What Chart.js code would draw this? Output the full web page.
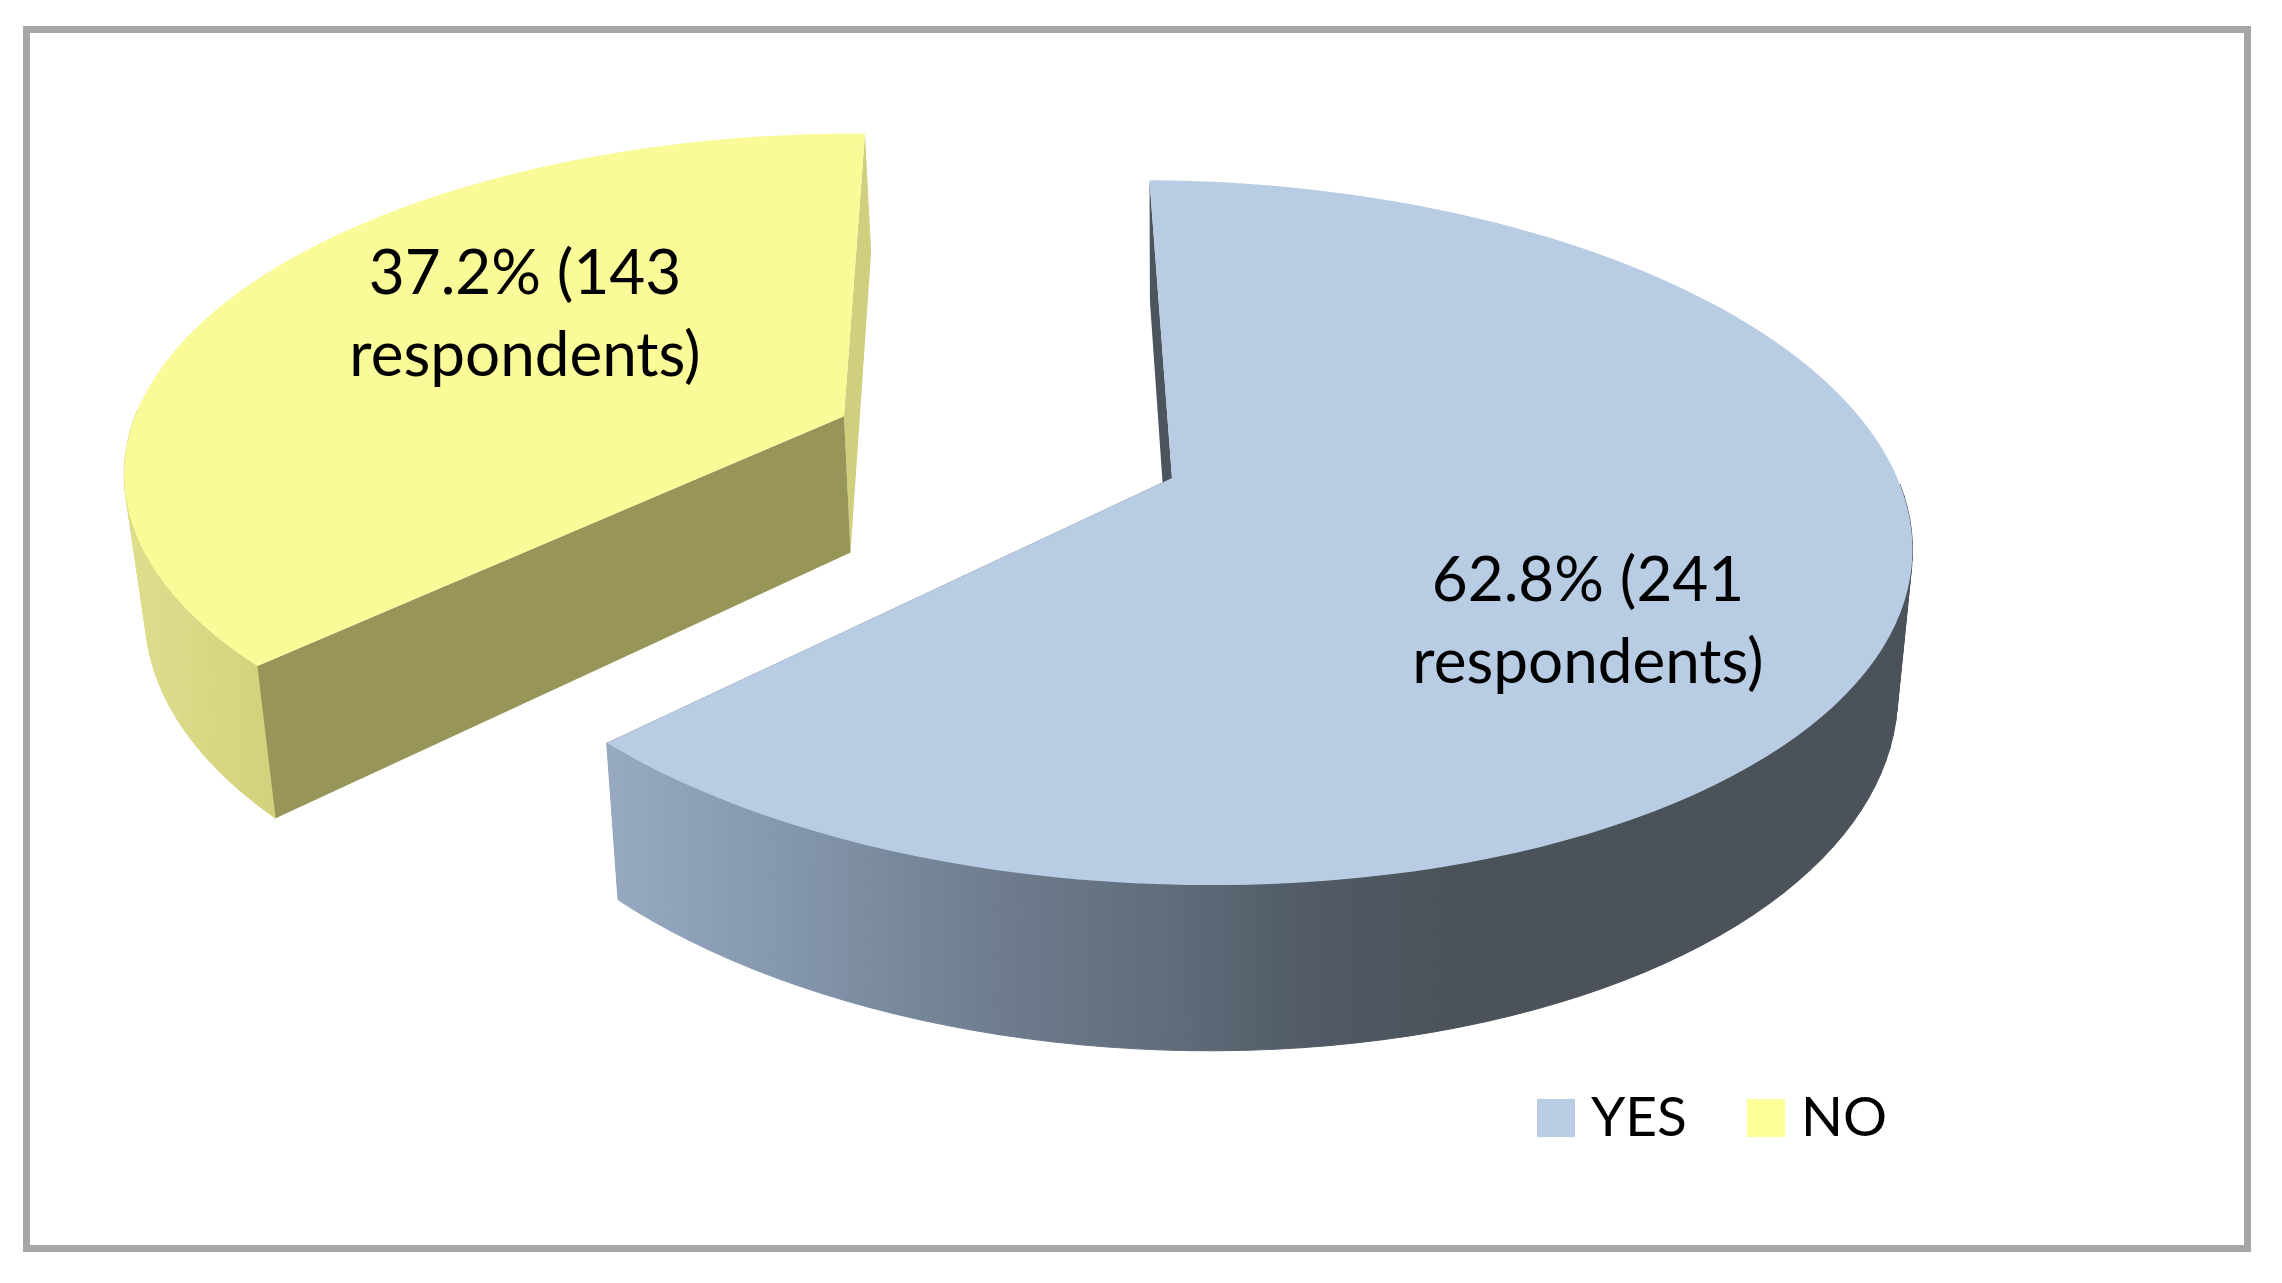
<!DOCTYPE html>
<html>
<head>
<meta charset="utf-8">
<title>Respondents</title>
<style>
  html, body { margin: 0; background: #fff; }
  canvas { display: block; }
</style>
<script src="https://cdn.jsdelivr.net/npm/chart.js@4/dist/chart.umd.js"></script>
</head>
<body>
<canvas id="myChart" width="2282" height="1283"></canvas>
<script>
const categories = ['YES', 'NO'];
const respondents = [241, 143];
const percents = ['62.8%', '37.2%'];

const topColors = ['#b8cce4', '#fbfa98'];
const swatchColors = ['#b8cce4', '#ffff99'];
const startWallColors = ['#4c555e', '#979658'];
const endWallColors = ['#4c555e', '#cfcf7e'];
const outerWallStops = [
    [[0, '#98aac1'], [0.15, '#8395ab'], [0.3, '#6e7c8e'], [0.44, '#5f6b79'], [0.54, '#515a66'], [0.65, '#4b5259'], [1, '#4b5259']],
    [[0, '#dfde8e'], [0.2, '#d2d27c'], [1, '#cfcf7e']]
];

// look of the tilted disc, px
const pie = { rx: 727, ry: 344, depth: 140, tilt: 0.155, shrink: 0.02, shearX: 26, shearY: 4 };
const explode = [0, 357];
const explodeTurn = -1.6 * Math.PI / 180;
const labelFont = '62px Lato';
const legendFont = '55px Lato';
const labelSpots = [[1588, 581], [525, 274]];
const lineGap = 82;

class PieSlice3D extends Chart.ArcElement {
    point(px, py, z) {
        let w = 1 - pie.tilt * py;
        let s = 1 - pie.shrink * z;
        return [
            this.x + s * (pie.rx * px + pie.shearX * py) / w,
            this.y + (pie.ry * py + pie.shearY * px + pie.depth * z) / w
        ];
    }

    fillPoly(ctx, points, fill) {
        ctx.beginPath();
        points.forEach((p) => ctx.lineTo(p[0], p[1]));
        ctx.closePath();
        ctx.fillStyle = fill;
        ctx.fill();
    }

    draw(ctx) {
        let index = this.$context.dataIndex;
        let mid = (this.startAngle + this.endAngle) / 2 + explodeTurn;
        let ox = Math.cos(mid) * this.options.offset / pie.rx;
        let oy = Math.sin(mid) * this.options.offset / pie.rx;
        let angles = [];
        let top = [];
        let bottom = [];
        for (let i = 0; i <= 120; i++) {
            let a = this.startAngle + (this.endAngle - this.startAngle) * i / 120;
            angles.push(a);
            top.push(this.point(ox + Math.cos(a), oy + Math.sin(a), 0));
            bottom.push(this.point(ox + Math.cos(a), oy + Math.sin(a), 1));
        }
        let apex = this.point(ox, oy, 0);
        let apexLow = this.point(ox, oy, 1);

        this.fillPoly(ctx, [apex, top[120], bottom[120], apexLow], endWallColors[index]);

        // outer wall, one strip per step so the silhouette stays filled
        // the back of the rim is hidden by the top face, skip it
        let xs = top.map((p) => p[0]);
        let grad = ctx.createLinearGradient(Math.min(...xs), 0, Math.max(...xs), 0);
        outerWallStops[index].forEach((stop) => grad.addColorStop(stop[0], stop[1]));
        ctx.strokeStyle = grad;
        ctx.lineWidth = 1;
        for (let i = 0; i < 120; i++) {
            if (Math.sin(angles[i]) < 0) {
                continue;
            }
            this.fillPoly(ctx, [top[i], top[i + 1], bottom[i + 1], bottom[i]], grad);
            ctx.stroke();
        }

        this.fillPoly(ctx, [apex, top[0], bottom[0], apexLow], startWallColors[index]);
        this.fillPoly(ctx, [apex].concat(top), this.options.backgroundColor);
    }
}
PieSlice3D.id = 'pieSlice3D';

class Pie3DController extends Chart.DoughnutController {}
Pie3DController.id = 'pie3d';
Pie3DController.defaults = { dataElementType: 'pieSlice3D' };

Chart.register(PieSlice3D, Pie3DController);

const framePlugin = {
    id: 'frame',
    beforeDraw(chart) {
        let ctx = chart.ctx;
        ctx.save();
        ctx.fillStyle = '#fff';
        ctx.fillRect(0, 0, chart.width, chart.height);
        ctx.strokeStyle = '#a6a6a6';
        ctx.lineWidth = 7;
        ctx.strokeRect(26.5, 29.5, 2221, 1219);
        ctx.restore();
    }
};

const textPlugin = {
    id: 'sliceText',
    afterDraw(chart) {
        let ctx = chart.ctx;
        ctx.save();
        ctx.fillStyle = '#000';
        ctx.textBaseline = 'middle';

        // slice labels
        ctx.font = labelFont;
        ctx.textAlign = 'center';
        respondents.forEach((n, i) => {
            ctx.fillText(percents[i] + ' (' + n, labelSpots[i][0], labelSpots[i][1]);
            ctx.fillText('respondents)', labelSpots[i][0], labelSpots[i][1] + lineGap);
        });

        // legend
        ctx.font = legendFont;
        ctx.textAlign = 'left';
        let legendX = [1537, 1747];
        categories.forEach((name, i) => {
            ctx.fillStyle = swatchColors[i];
            ctx.fillRect(legendX[i], 1099, 38, 38);
            ctx.fillStyle = '#000';
            ctx.fillText(name, legendX[i] + 54, 1118);
        });
        ctx.restore();
    }
};

let config = {
    type: 'pie3d',
    data: {
        labels: categories,
        datasets: [{
            data: respondents,
            backgroundColor: topColors,
            offset: explode,
            borderWidth: 0,
            rotation: 0
        }]
    },
    options: {
        responsive: false,
        animation: false,
        layout: { padding: { left: 62, bottom: 327 } },
        plugins: {
            legend: { display: false },
            tooltip: { enabled: false }
        }
    },
    plugins: [framePlugin, textPlugin]
};

let ctx = document.getElementById('myChart').getContext('2d');
var myChart = new Chart(ctx, config);
</script>
</body>
</html>
